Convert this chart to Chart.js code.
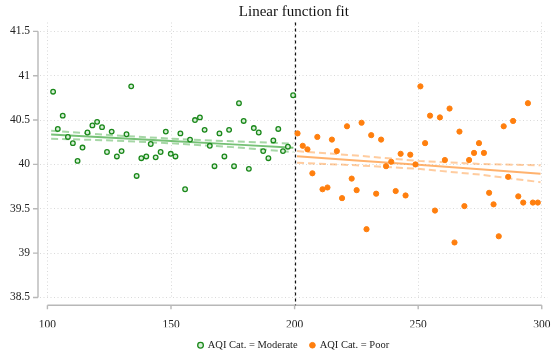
<!DOCTYPE html>
<html>
<head>
<meta charset="utf-8">
<title>Linear function fit</title>
<script src="https://cdn.jsdelivr.net/npm/chart.js@4.4.1/dist/chart.umd.min.js"></script>
<style>
  html, body { margin: 0; padding: 0; background: #fff; }
  #wrap { width: 553px; height: 350px; position: relative; }
</style>
</head>
<body>
<div id="wrap"><canvas id="graph"></canvas></div>
<script>
// AQI readings, split at the category cut-off
const moderateX = [102.3, 104.2, 106.2, 108.3, 110.3, 112.2, 114.2, 116.2, 118.2, 120.1,
                   122.1, 124.1, 126.0, 128.1, 130.0, 132.0, 133.9, 136.1, 138.0, 140.0,
                   141.8, 143.8, 145.8, 147.9, 149.9, 151.8, 153.8, 155.7, 157.7, 159.7,
                   161.7, 163.6, 165.7, 167.6, 169.6, 171.6, 173.5, 175.5, 177.5, 179.4,
                   181.5, 183.5, 185.5, 187.3, 189.4, 191.4, 193.4, 195.3, 197.3, 199.4];
const moderateY = [40.82, 40.40, 40.55, 40.31, 40.24, 40.04, 40.19, 40.36, 40.44, 40.48,
                   40.42, 40.14, 40.37, 40.09, 40.15, 40.34, 40.88, 39.87, 40.07, 40.09,
                   40.23, 40.08, 40.14, 40.37, 40.12, 40.09, 40.35, 39.72, 40.28, 40.50,
                   40.53, 40.39, 40.21, 39.98, 40.35, 40.09, 40.39, 39.98, 40.69, 40.49,
                   39.95, 40.41, 40.36, 40.15, 40.07, 40.27, 40.40, 40.15, 40.20, 40.78];

const poorX = [201.2, 203.3, 205.2, 207.2, 209.2, 211.3, 213.3, 215.1, 217.1, 219.2,
               221.2, 223.1, 225.1, 227.1, 229.1, 231.0, 233.0, 235.0, 237.0, 239.1,
               240.9, 242.9, 244.9, 246.8, 248.9, 250.9, 252.8, 254.8, 256.8, 258.8,
               260.8, 262.7, 264.7, 266.7, 268.7, 270.6, 272.6, 274.6, 276.6, 278.7,
               280.5, 282.6, 284.6, 286.4, 288.4, 290.5, 292.5, 294.4, 296.4, 298.4];
const poorY = [40.35, 40.21, 40.17, 39.90, 40.31, 39.72, 39.74, 40.28, 40.15, 39.62,
               40.43, 39.84, 39.71, 40.47, 39.27, 40.33, 39.67, 40.28, 39.98, 40.03,
               39.70, 40.12, 39.65, 40.11, 40.00, 40.88, 40.24, 40.55, 39.48, 40.53,
               40.05, 40.63, 39.12, 40.37, 39.53, 40.05, 40.13, 40.24, 40.13, 39.68,
               39.55, 39.19, 40.43, 39.86, 40.49, 39.64, 39.57, 40.69, 39.57, 39.57];

// fitted lines with their confidence bands
const moderateFitX  = [101.5, 126, 150, 175, 199.5];
const moderateFit   = [40.337, 40.300, 40.264, 40.226, 40.188];
const moderateUpper = [40.380, 40.330, 40.290, 40.260, 40.235];
const moderateLower = [40.290, 40.270, 40.238, 40.195, 40.140];

const poorFitX  = [201, 225, 250, 275, 299.5];
const poorFit   = [40.093, 40.045, 39.995, 39.946, 39.896];
const poorUpper = [40.150, 40.100, 40.040, 40.005, 39.990];
const poorLower = [40.020, 39.990, 39.950, 39.885, 39.800];

const cutoff = 200;
const xTicks = [100, 150, 200, 250, 300];
const yTicks = [38.5, 39, 39.5, 40, 40.5, 41, 41.5];

const serif = '"Liberation Serif", "DejaVu Serif", serif';

function pairs(xs, ys) {
    return xs.map((x, i) => ({ x: x, y: ys[i] }));
}

function fitLine(xs, ys, color, dashed) {
    return {
        type: 'line',
        label: '',
        data: pairs(xs, ys),
        borderColor: color,
        borderWidth: 2,
        borderDash: dashed ? [7, 4] : [],
        pointRadius: 0,
        fill: false,
        tension: 0,
        order: 2
    };
}

// offset axis spines plus the dashed divider at the cut-off
const axisLines = {
    id: 'axisLines',
    beforeDatasetsDraw(chart) {
        const { ctx, chartArea, scales: { x, y } } = chart;
        ctx.save();
        ctx.strokeStyle = '#b8b8b8';
        ctx.lineWidth = 1.4;
        ctx.beginPath();
        const sx = chartArea.left - 2;
        ctx.moveTo(sx, y.getPixelForValue(yTicks[0]));
        ctx.lineTo(sx, y.getPixelForValue(yTicks[yTicks.length - 1]));
        yTicks.forEach(v => {
            const py = y.getPixelForValue(v);
            ctx.moveTo(sx - 5, py);
            ctx.lineTo(sx, py);
        });
        const sy = chartArea.bottom + 6;
        ctx.moveTo(x.getPixelForValue(xTicks[0]), sy);
        ctx.lineTo(x.getPixelForValue(xTicks[xTicks.length - 1]), sy);
        xTicks.forEach(v => {
            const px = x.getPixelForValue(v);
            ctx.moveTo(px, sy);
            ctx.lineTo(px, sy + 4);
        });
        ctx.stroke();

        const cx = Math.round(x.getPixelForValue(cutoff)) + 0.5;
        ctx.strokeStyle = '#111';
        ctx.lineWidth = 1.2;
        ctx.setLineDash([3, 3]);
        ctx.beginPath();
        ctx.moveTo(cx, chartArea.top);
        ctx.lineTo(cx, chartArea.bottom + 6);
        ctx.stroke();
        ctx.restore();
    }
};

const datasets = [{
    label: 'AQI Cat. = Moderate',
    data: pairs(moderateX, moderateY),
    pointStyle: 'circle',
    pointRadius: 2.3,
    borderWidth: 1.3,
    borderColor: '#1a881a',
    backgroundColor: '#d8efd8',
    order: 1
}, {
    label: 'AQI Cat. = Poor',
    data: pairs(poorX, poorY),
    pointStyle: 'circle',
    pointRadius: 2.6,
    borderWidth: 1,
    borderColor: '#ff7f0e',
    backgroundColor: '#ff7f0e',
    order: 0
},
    fitLine(moderateFitX, moderateFit, 'rgba(44, 160, 44, 0.65)', false),
    fitLine(moderateFitX, moderateUpper, 'rgba(44, 160, 44, 0.42)', true),
    fitLine(moderateFitX, moderateLower, 'rgba(44, 160, 44, 0.42)', true),
    fitLine(poorFitX, poorFit, 'rgba(255, 127, 14, 0.6)', false),
    fitLine(poorFitX, poorUpper, 'rgba(255, 127, 14, 0.4)', true),
    fitLine(poorFitX, poorLower, 'rgba(255, 127, 14, 0.4)', true)
];

const ctx = document.getElementById('graph').getContext('2d');
const chart = new Chart(ctx, {
    type: 'scatter',
    data: { datasets: datasets },
    plugins: [axisLines],
    options: {
        responsive: true,
        maintainAspectRatio: false,
        animation: false,
        devicePixelRatio: 1,
        layout: { padding: { left: 0, right: 5, top: 0, bottom: -10.5 } },
        scales: {
            x: {
                type: 'linear',
                min: 97,
                max: 302.4,
                afterBuildTicks: s => { s.ticks = xTicks.map(v => ({ value: v })); },
                afterFit: s => {
                    s.height = 28;
                    s.paddingLeft = 0;
                    s.paddingRight = 0;
                },
                grid: { color: '#d9d9d9', lineWidth: 1, drawTicks: false },
                border: { display: false, dash: [1, 2.5] },
                ticks: {
                    padding: 19,
                    color: '#222',
                    font: { family: serif, size: 11.5 },
                    callback: v => String(v)
                }
            },
            y: {
                min: 38.48,
                max: 41.6,
                afterBuildTicks: s => { s.ticks = yTicks.map(v => ({ value: v })); },
                afterFit: s => {
                    s.width = 40;
                    s.paddingTop = 0;
                    s.paddingBottom = 0;
                },
                grid: { color: '#d9d9d9', lineWidth: 1, drawTicks: false },
                border: { display: false, dash: [1, 2.5] },
                ticks: {
                    padding: 10,
                    color: '#222',
                    font: { family: serif, size: 11.5 },
                    callback: v => String(v)
                }
            }
        },
        plugins: {
            title: {
                display: true,
                text: 'Linear function fit',
                fullSize: false,
                color: '#111',
                font: { family: serif, size: 15, weight: 'normal' },
                padding: { top: 3, bottom: 1.5 }
            },
            legend: {
                position: 'bottom',
                fullSize: false,
                labels: {
                    usePointStyle: true,
                    boxWidth: 4,
                    boxHeight: 4,
                    padding: 12.75,
                    color: '#222',
                    font: { family: serif, size: 10.5 },
                    filter: item => item.datasetIndex < 2,
                    sort: (a, b) => a.datasetIndex - b.datasetIndex
                }
            },
            tooltip: { enabled: false }
        }
    }
});
</script>
</body>
</html>
